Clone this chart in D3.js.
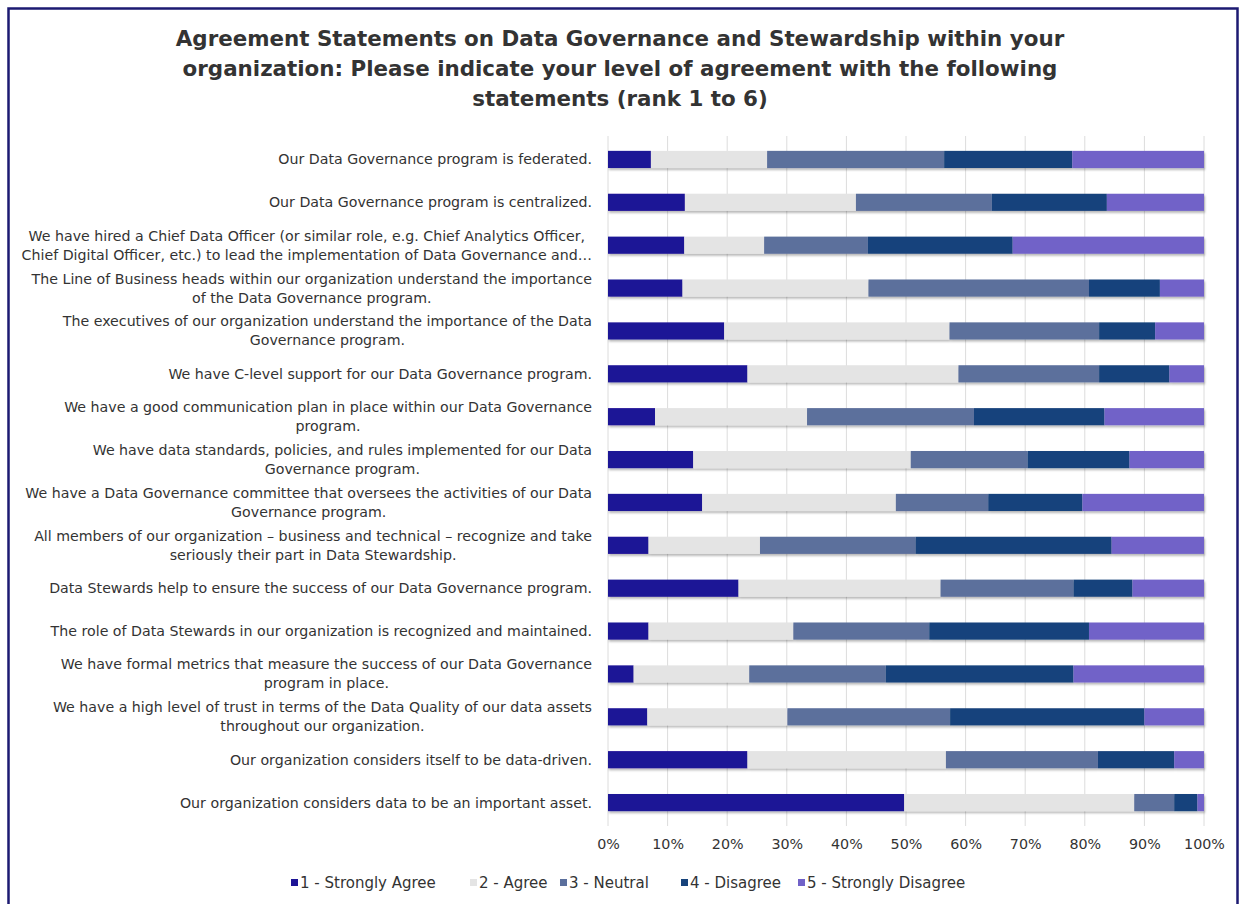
<!DOCTYPE html>
<html>
<head>
<meta charset="utf-8">
<script src="https://cdn.jsdelivr.net/npm/d3@7/dist/d3.min.js"></script>
<style>
  html, body { margin: 0; padding: 0; background: #fff; }
  svg { display: block; }
  text { font-family: "DejaVu Sans", Verdana, sans-serif; }
</style>
</head>
<body>
<svg id="chart" width="1241" height="904"></svg>
<script>
// Survey statements, top to bottom
const categories = [
  ["Our Data Governance program is federated."],
  ["Our Data Governance program is centralized."],
  ["We have hired a Chief Data Officer (or similar role, e.g. Chief Analytics Officer,",
   "Chief Digital Officer, etc.) to lead the implementation of Data Governance and\u2026"],
  ["The Line of Business heads within our organization understand the importance",
   "of the Data Governance program."],
  ["The executives of our organization understand the importance of the Data",
   "Governance program."],
  ["We have C-level support for our Data Governance program."],
  ["We have a good communication plan in place within our Data Governance",
   "program."],
  ["We have data standards, policies, and rules implemented for our Data",
   "Governance program."],
  ["We have a Data Governance committee that oversees the activities of our Data",
   "Governance program."],
  ["All members of our organization \u2013 business and technical \u2013 recognize and take",
   "seriously their part in Data Stewardship."],
  ["Data Stewards help to ensure the success of our Data Governance program."],
  ["The role of Data Stewards in our organization is recognized and maintained."],
  ["We have formal metrics that measure the success of our Data Governance",
   "program in place."],
  ["We have a high level of trust in terms of the Data Quality of our data assets",
   "throughout our organization."],
  ["Our organization considers itself to be data-driven."],
  ["Our organization considers data to be an important asset."]
];

// Share of responses (%) per answer, same order as categories
const stronglyAgree    = [7.2, 12.9, 12.8, 12.5, 19.5, 23.4, 7.9, 14.3, 15.8, 6.8, 21.9, 6.8, 4.3, 6.6, 23.4, 49.7];
const agree            = [19.5, 28.7, 13.4, 31.2, 37.8, 35.4, 25.5, 36.5, 32.5, 18.7, 33.9, 24.3, 19.4, 23.5, 33.3, 38.6];
const neutral          = [29.7, 22.8, 17.4, 37.0, 25.1, 23.6, 28.0, 19.6, 15.5, 26.1, 22.3, 22.8, 22.9, 27.3, 25.5, 6.7];
const disagree         = [21.5, 19.3, 24.3, 11.9, 9.4, 11.8, 21.9, 17.1, 15.8, 32.9, 9.9, 26.8, 31.5, 32.6, 12.8, 3.9];
const stronglyDisagree = [22.1, 16.3, 32.1, 7.4, 8.2, 5.8, 16.7, 12.5, 20.4, 15.5, 12.0, 19.3, 21.9, 10.0, 5.0, 1.1];

const seriesNames = ["1 - Strongly Agree", "2 - Agree", "3 - Neutral", "4 - Disagree", "5 - Strongly Disagree"];
const seriesColors = ["#1d1496", "#e4e4e4", "#5b6f9c", "#17437b", "#7162c8"];
const tickValues = [0, 10, 20, 30, 40, 50, 60, 70, 80, 90, 100];
const tickLabels = ["0%", "10%", "20%", "30%", "40%", "50%", "60%", "70%", "80%", "90%", "100%"];

const titleLines = [
  "Agreement Statements on Data Governance and Stewardship within your",
  "organization: Please indicate your level of agreement with the following",
  "statements (rank 1 to 6)"
];

const keys = ["sa", "a", "n", "d", "sd"];
const rows = categories.map((c, i) => ({
  idx: i, label: c,
  sa: stronglyAgree[i], a: agree[i], n: neutral[i], d: disagree[i], sd: stronglyDisagree[i]
}));

const svg = d3.select("#chart");
const W = 1241, H = 904;

// frame
svg.append("rect").attr("x", 0).attr("y", 0).attr("width", W).attr("height", H).attr("fill", "#fff");
svg.append("rect")
  .attr("x", 8.5).attr("y", 8.5).attr("width", W - 12).attr("height", H + 10)
  .attr("fill", "none").attr("stroke", "#1c1a72").attr("stroke-width", 2.5);

// drop shadow for bars
const defs = svg.append("defs");
const f = defs.append("filter").attr("id", "shadow").attr("x", "-5%").attr("y", "-30%").attr("width", "110%").attr("height", "180%");
f.append("feDropShadow").attr("dx", 1).attr("dy", 2).attr("stdDeviation", 1.2)
  .attr("flood-color", "#000").attr("flood-opacity", 0.28);

// title
svg.append("g").selectAll("text").data(titleLines).join("text")
  .attr("x", 620).attr("y", (d, i) => 46 + i * 30)
  .attr("text-anchor", "middle")
  .attr("font-size", 21.4).attr("font-weight", "bold").attr("fill", "#333")
  .text(d => d);

const x = d3.scaleLinear().domain([0, 100]).range([608, 1204]);
const y = d3.scaleBand().domain(rows.map(r => r.idx)).range([138, 824]).paddingInner(0.6).paddingOuter(0.3);

// gridlines
svg.append("g").selectAll("line").data(tickValues).join("line")
  .attr("x1", d => x(d)).attr("x2", d => x(d))
  .attr("y1", 136).attr("y2", 826)
  .attr("stroke", "#dcdcdc").attr("stroke-width", 1);

// stacked bars
const stacked = d3.stack().keys(keys)(rows);
const gBars = svg.append("g").attr("filter", "url(#shadow)");
stacked.forEach((layer, k) => {
  gBars.append("g").attr("fill", seriesColors[k])
    .selectAll("rect").data(layer).join("rect")
    .attr("x", d => x(d[0]))
    .attr("width", d => Math.max(0, x(d[1]) - x(d[0])))
    .attr("y", d => y(d.data.idx))
    .attr("height", y.bandwidth());
});

// category labels: block right-aligned, lines centered within block
const labelRight = 592;
const lineH = 19;
const gLab = svg.append("g");
rows.forEach(r => {
  const cy = y(r.idx) + y.bandwidth() / 2;
  const g = gLab.append("g");
  const n = r.label.length;
  const texts = g.selectAll("text").data(r.label).join("text")
    .attr("font-size", 14.2).attr("fill", "#333")
    .attr("dominant-baseline", "central")
    .attr("y", (d, i) => cy + (i - (n - 1) / 2) * lineH)
    .text(d => d);
  let maxW = 0;
  texts.each(function () { maxW = Math.max(maxW, this.getComputedTextLength()); });
  texts.attr("text-anchor", "middle").attr("x", labelRight - maxW / 2);
});

// x axis
const axis = d3.axisBottom(x).tickValues(tickValues).tickFormat((d, i) => tickLabels[i]).tickSize(0).tickPadding(0);
const gAx = svg.append("g").attr("transform", "translate(0,839)").call(axis);
gAx.select(".domain").remove();
gAx.selectAll("text").attr("font-size", 14.3).attr("fill", "#333")
  .attr("font-family", "DejaVu Sans, Verdana, sans-serif");

// legend
const legendX = [291, 470, 560, 681, 798];
const gLeg = svg.append("g");
seriesNames.forEach((name, k) => {
  gLeg.append("rect").attr("x", legendX[k]).attr("y", 879).attr("width", 7).attr("height", 7)
    .attr("fill", seriesColors[k]);
  gLeg.append("text").attr("x", legendX[k] + 9).attr("y", 883)
    .attr("dominant-baseline", "central")
    .attr("font-size", 15).attr("fill", "#333").text(name);
});
</script>
</body>
</html>
